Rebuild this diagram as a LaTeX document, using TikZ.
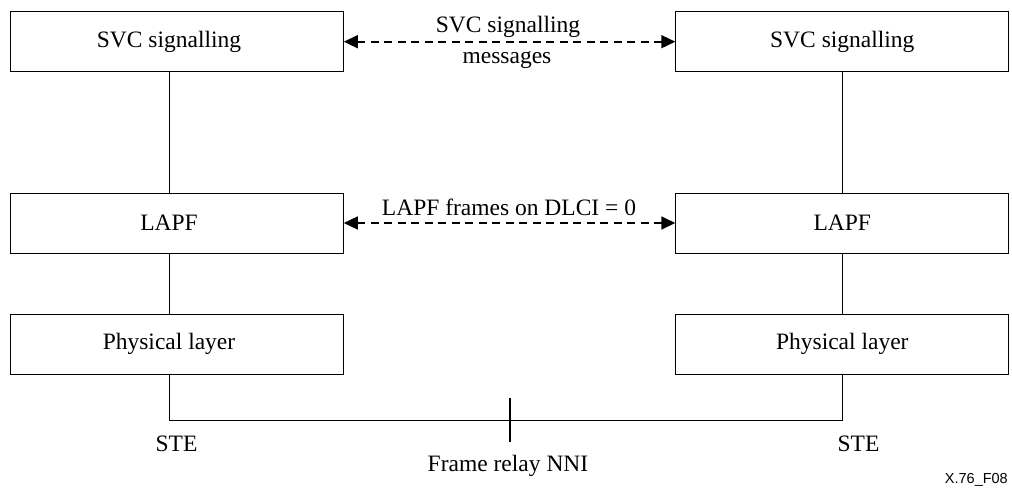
\documentclass[tikz,border=0pt]{standalone}
\usepackage{fontspec}
\setmainfont{Liberation Serif}
\newfontfamily\figsans{Liberation Sans}
\usetikzlibrary{arrows.meta}
\tikzset{
  layerbox/.style={draw, line width=1pt, minimum width=333pt, minimum height=60pt, inner sep=0pt, font=\fontsize{23.5}{28}\selectfont},
  lbl/.style={inner sep=0pt, anchor=base, font=\fontsize{23.5}{28}\selectfont},
  msgarrow/.style={line width=1.6pt, dash pattern=on 8pt off 5.5pt, {Triangle[length=14pt,width=13pt]}-{Triangle[length=14pt,width=13pt]}},
  link/.style={line width=1pt},
}
\begin{document}
\begin{tikzpicture}[x=1pt,y=-1pt]
\useasboundingbox (0,0) rectangle (1012,488);
% boxes
\node[layerbox] (sL) at (176.8,41.7) {\hspace*{-15.6pt}SVC signalling};
\node[layerbox] (sR) at (842.3,41.7) {SVC signalling};
\node[layerbox] (lL) at (176.8,223) {\hspace*{-15.6pt}LAPF};
\node[layerbox] (lR) at (842.3,223) {LAPF};
\node[layerbox] (pL) at (176.8,344) {\hspace*{-15.6pt}Physical layer};
\node[layerbox] (pR) at (842.3,344) {Physical layer};
% column coordinates
\coordinate (xL) at (169,420);
\coordinate (xR) at (842.3,420);
\coordinate (nniT) at (510,398);
\coordinate (nniB) at (510,442);
% vertical links
\draw[link] (sL.south -| xL) -- (lL.north -| xL);
\draw[link] (lL.south -| xL) -- (pL.north -| xL);
\draw[link] (sR.south) -- (lR.north);
\draw[link] (lR.south) -- (pR.north);
\draw[link] (pL.south -| xL) -- (xL) -- (xR) -- (pR.south);
\draw[line width=2pt] (nniT) -- (nniB);
% peer arrows
\draw[msgarrow] (sL.east) -- (sR.west);
\draw[msgarrow] (lL.east) -- (lR.west);
% labels
\node[lbl] (t1) at (508,32) {SVC signalling};
\node[lbl] (t2) at (507,63) {messages};
\node[lbl] (t3) at (509,215) {LAPF frames on DLCI = 0};
\node[lbl] (steL) at (176.5,451) {STE};
\node[lbl] (steR) at (858.5,451) {STE};
\node[lbl] (nni) at (508,471) {Frame relay NNI};
\node[inner sep=0pt, anchor=base east, font=\figsans\fontsize{14.5}{16}\selectfont] (fig) at (1008,483) {X.76\_F08};
\end{tikzpicture}
\end{document}
